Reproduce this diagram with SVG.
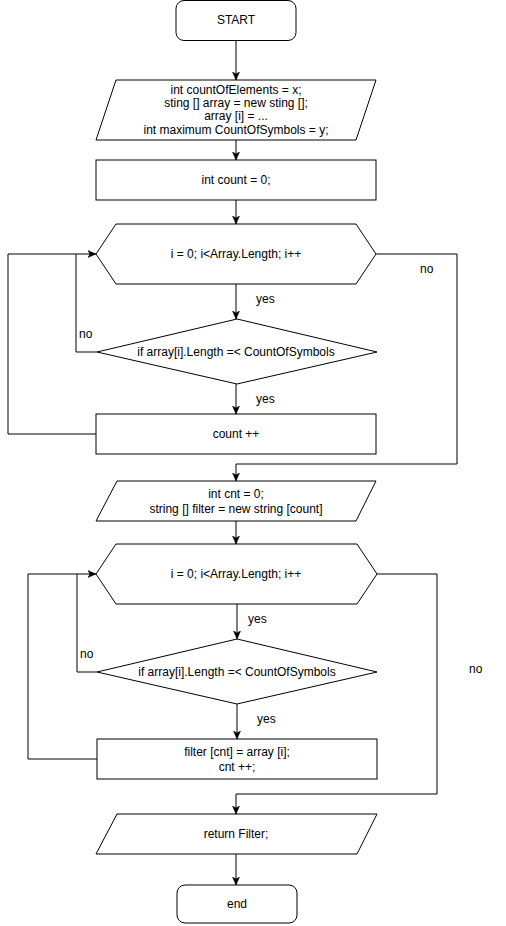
<svg xmlns="http://www.w3.org/2000/svg" width="506" height="926" viewBox="0 0 506 926">
<style>
.s{fill:#fff;stroke:#000;stroke-width:1}
.t{font-family:"Liberation Sans",Arial,sans-serif;font-size:12px;fill:#000;text-anchor:middle}
.l{font-family:"Liberation Sans",Arial,sans-serif;font-size:12px;fill:#000}
.c{fill:none;stroke:#000;stroke-width:1}
</style>
<defs>
<marker id="arr" markerWidth="8" markerHeight="8" viewBox="0 0 8 8" refX="8" refY="4" orient="auto" markerUnits="userSpaceOnUse">
<path d="M0,0.5 L8,4 L0,7.5 L2,4 z" fill="#000" stroke="#000" stroke-width="0.5"/>
</marker>
</defs>
<rect width="506" height="926" fill="#fff"/>
<g id="connectors">
<path class="c" d="M236,40 V80" marker-end="url(#arr)"/>
<path class="c" d="M236,140 V160" marker-end="url(#arr)"/>
<path class="c" d="M236,200 V224" marker-end="url(#arr)"/>
<path class="c" d="M236,284 V319" marker-end="url(#arr)"/>
<path class="c" d="M97,352 H76 V254 H96" marker-end="url(#arr)"/>
<path class="c" d="M236,384 V414" marker-end="url(#arr)"/>
<path class="c" d="M96,434 H8 V254 H76"/>
<path class="c" d="M376,254 H457 V464 H236 V481" marker-end="url(#arr)"/>
<path class="c" d="M236,521 V544" marker-end="url(#arr)"/>
<path class="c" d="M237,604 V639" marker-end="url(#arr)"/>
<path class="c" d="M97,672 H77 V574 H96" marker-end="url(#arr)"/>
<path class="c" d="M237,704 V739" marker-end="url(#arr)"/>
<path class="c" d="M97,759 H28 V574 H77"/>
<path class="c" d="M377,574 H437 V794 H236 V814" marker-end="url(#arr)"/>
<path class="c" d="M236,854 V885" marker-end="url(#arr)"/>
<text class="l" x="256" y="303">yes</text>
<text class="l" x="79" y="338">no</text>
<text class="l" x="256" y="403">yes</text>
<text class="l" x="420" y="273">no</text>
<text class="l" x="248" y="623">yes</text>
<text class="l" x="80" y="658">no</text>
<text class="l" x="257" y="723">yes</text>
<text class="l" x="469" y="673">no</text>
</g>
<g id="start">
<rect class="s" x="176" y="0.5" width="120" height="40" rx="8"/>
<text class="t" x="236" y="24">START</text>
</g>
<g id="input1">
<polygon class="s" points="116,80 376,80 356,140 96,140"/>
<text class="t" x="236" y="94">int countOfElements = x;</text>
<text class="t" x="236" y="107">sting [] array = new sting [];</text>
<text class="t" x="236" y="120">array [i] = ...</text>
<text class="t" x="236" y="134">int maximum CountOfSymbols = y;</text>
</g>
<g id="count0">
<rect class="s" x="96" y="160" width="280" height="40"/>
<text class="t" x="236" y="184">int count = 0;</text>
</g>
<g id="loop1">
<polygon class="s" points="96,254 116,224 356,224 376,254 356,284 116,284"/>
<text class="t" x="236" y="258">i = 0; i&lt;Array.Length; i++</text>
</g>
<g id="if1">
<polygon class="s" points="97,352 237,319 377,352 237,384"/>
<text class="t" x="236" y="356">if array[i].Length =&lt; CountOfSymbols</text>
</g>
<g id="countpp">
<rect class="s" x="96" y="414" width="280" height="40"/>
<text class="t" x="236" y="438">count ++</text>
</g>
<g id="input2">
<polygon class="s" points="117,481 376,481 356,521 96,521"/>
<text class="t" x="236" y="498">int cnt = 0;</text>
<text class="t" x="236" y="513">string [] filter = new string [count]</text>
</g>
<g id="loop2">
<polygon class="s" points="96,574 116,544 357,544 377,574 357,604 116,604"/>
<text class="t" x="236" y="578">i = 0; i&lt;Array.Length; i++</text>
</g>
<g id="if2">
<polygon class="s" points="97,672 237,639 377,672 237,704"/>
<text class="t" x="237" y="676">if array[i].Length =&lt; CountOfSymbols</text>
</g>
<g id="filterset">
<rect class="s" x="97" y="739" width="280" height="40"/>
<text class="t" x="237" y="756">filter [cnt] = array [i];</text>
<text class="t" x="237" y="771">cnt ++;</text>
</g>
<g id="output">
<polygon class="s" points="117,814 377,814 357,854 96,854"/>
<text class="t" x="236" y="838">return Filter;</text>
</g>
<g id="end">
<rect class="s" x="177" y="885" width="120" height="38" rx="8"/>
<text class="t" x="237" y="908">end</text>
</g>
</svg>
